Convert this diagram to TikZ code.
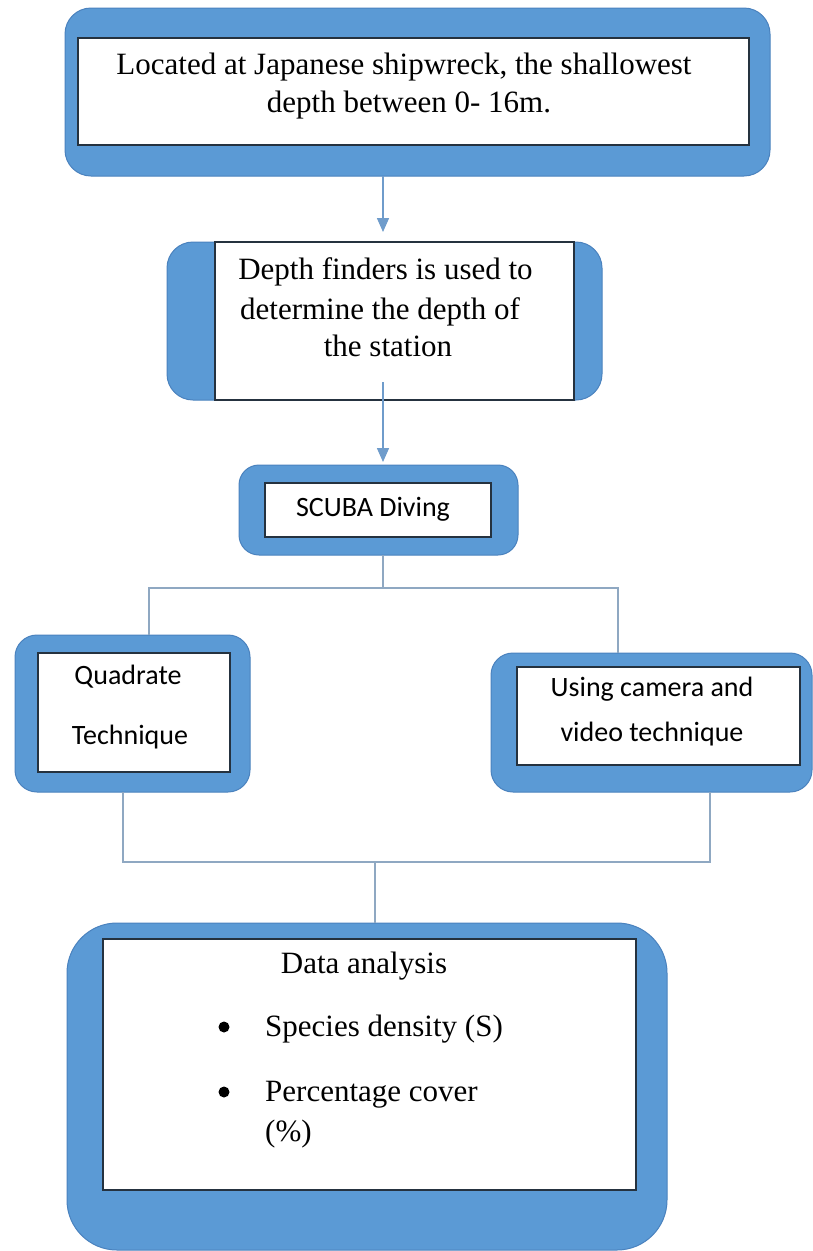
\documentclass[tikz,border=0pt]{standalone}
\usepackage{fontspec}
\setmainfont{Liberation Serif}
\newfontfamily\sansbody{Carlito}
\usetikzlibrary{arrows.meta,calc}

\definecolor{frameblue}{HTML}{5B9AD5}
\definecolor{frameedge}{HTML}{4A82BE}
\definecolor{inkedge}{HTML}{25323F}
\definecolor{linkgray}{HTML}{8FA8C2}
\definecolor{arrowblue}{HTML}{6F9CCB}

\begin{document}
\begin{tikzpicture}[x=1pt,y=-1pt,
  frame/.style={draw=frameedge, line width=1pt, fill=frameblue, rectangle,
                inner sep=0pt, outer sep=0pt},
  card/.style={draw=inkedge, line width=1.8pt, fill=white, rectangle,
               inner sep=0pt, outer sep=0pt},
  serifline/.style={font=\fontsize{31}{37}\selectfont, inner sep=0pt, anchor=base},
  sansline/.style={font=\sansbody\fontsize{28}{34}\selectfont, inner sep=0pt, anchor=base},
  dot/.style={circle, fill=black, inner sep=0pt, minimum size=11pt},
  link/.style={draw=linkgray, line width=1.5pt},
  flow/.style={draw=arrowblue, line width=1.5pt,
               -{Triangle[width=12pt,length=14pt]}},
]
\useasboundingbox[fill=white] (0,0) rectangle (813,1251);

% guide coordinates for the connectors
\coordinate (spine) at (383,0);
\coordinate (split) at (383,588);
\coordinate (qx) at (149,0);
\coordinate (cx) at (618,0);
\coordinate (qbx) at (123,0);
\coordinate (cbx) at (710,0);
\coordinate (join) at (375,862);

% site description
\node[frame, rounded corners=26pt, minimum width=705pt, minimum height=168pt] (topOut) at (417.5,92) {};
\node[card, minimum width=671pt, minimum height=107pt] (top) at (413.5,91.5) {};
\node[serifline] (top1) at (404,74) {Located at Japanese shipwreck, the shallowest};
\node[serifline] (top2) at (409,112) {depth between 0- 16m.};

% depth measurement
\node[frame, rounded corners=26pt, minimum width=435pt, minimum height=158pt] (depthOut) at (384.5,321) {};
\node[card, minimum width=359pt, minimum height=158pt] (depth) at (394.5,321) {};
\node[serifline] (dep1) at (385.5,279) {Depth finders is used to};
\node[serifline] (dep2) at (380,319) {determine the depth of};
\node[serifline] (dep3) at (388,356) {the station};

% diving
\node[frame, rounded corners=20pt, minimum width=279pt, minimum height=90pt] (scubaOut) at (378.5,510) {};
\node[card, minimum width=226pt, minimum height=54pt] (scuba) at (378,510) {};
\node[sansline] (scubaText) at (373,516) {SCUBA Diving};

% survey techniques
\node[frame, rounded corners=22pt, minimum width=235pt, minimum height=157pt] (quadOut) at (132.5,713.5) {};
\node[card, minimum width=192pt, minimum height=119pt] (quad) at (134,712.5) {};
\node[sansline] (quad1) at (128,684) {Quadrate};
\node[sansline] (quad2) at (130,744) {Technique};

\node[frame, rounded corners=22pt, minimum width=321pt, minimum height=139pt] (camOut) at (651.5,722.5) {};
\node[card, minimum width=283pt, minimum height=98pt] (cam) at (658.5,716) {};
\node[sansline] (cam1) at (652,696) {Using camera and};
\node[sansline] (cam2) at (652,741) {video technique};

% analysis
\node[frame, rounded corners=50pt, minimum width=600pt, minimum height=327pt] (dataOut) at (367,1086.5) {};
\node[card, minimum width=533pt, minimum height=251pt] (data) at (369.5,1064.5) {};
\node[serifline] (dataHead) at (364,973) {Data analysis};
\node[dot] (bul1) at (224,1027) {};
\node[serifline, anchor=base west] (item1) at (265,1036) {Species density (S)};
\node[dot] (bul2) at (224,1092) {};
\node[serifline, anchor=base west] (item2) at (265,1101) {Percentage cover};
\node[serifline, anchor=base west] (item2b) at (265,1141) {(\%)};

% connectors
\draw[flow, shorten >=10pt] (topOut.south -| spine) -- (depthOut.north -| spine);
\draw[flow, shorten >=3pt] ($(depthOut.south -| spine)+(0,-18)$) -- (scubaOut.north -| spine);
\draw[link] (scubaOut.south -| split) -- (split);
\draw[link] (quadOut.north -| qx) |- (split) -| (camOut.north -| cx);
\draw[link] (quadOut.south -| qbx) |- (join) -| (camOut.south -| cbx);
\draw[link] (join) -- (dataOut.north -| join);
\end{tikzpicture}
\end{document}
